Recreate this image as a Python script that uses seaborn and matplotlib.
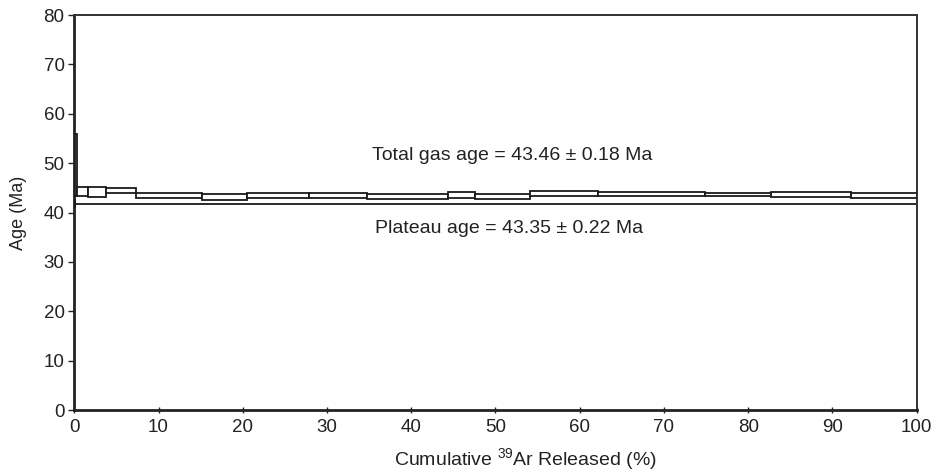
import numpy as np
import pandas as pd
import matplotlib
matplotlib.use("Agg")
import matplotlib.pyplot as plt
import seaborn as sns

# Step boundaries (cumulative 39Ar released, %)
step_start = [0.0, 0.12, 0.36, 1.66, 3.80, 7.36, 15.13, 20.55, 27.88, 34.72,
              44.35, 47.59, 54.12, 62.16, 74.90, 82.70, 92.25]
step_end = [0.12, 0.36, 1.66, 3.80, 7.36, 15.13, 20.55, 27.88, 34.72, 44.35,
            47.59, 54.12, 62.16, 74.90, 82.70, 92.25, 100.0]
# Age ranges (Ma) of each step box
age_low = [41.2, 43.3, 43.4, 43.15, 43.9, 43.0, 42.6, 43.0, 42.85, 42.65,
           42.85, 42.7, 43.32, 43.38, 43.25, 43.18, 42.98]
age_high = [42.6, 56.0, 45.15, 45.15, 45.0, 44.05, 43.65, 43.95, 44.0, 43.66,
            44.2, 43.72, 44.33, 44.2, 44.03, 44.06, 43.86]

plateau_x = [0.0, 100.0]
plateau_y = [41.63, 41.63]

total_gas_text = "Total gas age = 43.46 ± 0.18 Ma"
plateau_text = "Plateau age = 43.35 ± 0.22 Ma"

x_ticks = [0, 10, 20, 30, 40, 50, 60, 70, 80, 90, 100]
y_ticks = [0, 10, 20, 30, 40, 50, 60, 70, 80]

sns.set_style("ticks")
plt.rcParams['font.family'] = ['Liberation Sans', 'DejaVu Sans']
plt.rcParams['mathtext.fontset'] = 'custom'
plt.rcParams['mathtext.rm'] = 'Liberation Sans'

fig = plt.figure(figsize=(9.37, 4.75), dpi=100)
ax = fig.add_axes([0.0793, 0.1368, 0.8990, 0.8316])

df = pd.DataFrame({"start": step_start, "end": step_end, "lo": age_low, "hi": age_high})
ax.bar(df["start"], df["hi"] - df["lo"], width=df["end"] - df["start"], bottom=df["lo"],
       align="edge", facecolor="white", edgecolor="#1a1a1a", linewidth=1.3, zorder=3)

sns.lineplot(x=plateau_x, y=plateau_y, ax=ax, color="#1a1a1a", linewidth=1.3, zorder=2)

ax.set_xlim(0, 100)
ax.set_ylim(0, 80)
ax.set_xticks(x_ticks)
ax.set_yticks(y_ticks)
ax.tick_params(axis="x", direction="inout", length=5, width=1, pad=4, labelsize=13.5, colors="#222222")
ax.tick_params(axis="y", direction="out", length=4, width=1, pad=3, labelsize=13.5, colors="#222222")

for side in ["left", "bottom"]:
    ax.spines[side].set_linewidth(2.0)
    ax.spines[side].set_color("#222222")
for side in ["top", "right"]:
    ax.spines[side].set_visible(True)
    ax.spines[side].set_linewidth(1.4)
    ax.spines[side].set_color("#333333")

ax.set_xlabel("Cumulative $\\mathregular{^{39}}$Ar Released (%)", fontsize=14, color="#222222")
ax.xaxis.label.set_va("center")
ax.xaxis.set_label_coords(0.535, -0.125)
ax.set_ylabel("Age (Ma)", fontsize=13, color="#222222", labelpad=12)

ax.text(52.0, 51.6, total_gas_text, ha="center", va="center", fontsize=14, color="#222222")
ax.text(51.6, 36.8, plateau_text, ha="center", va="center", fontsize=14, color="#222222")

fig.savefig("out.png", dpi=100)
